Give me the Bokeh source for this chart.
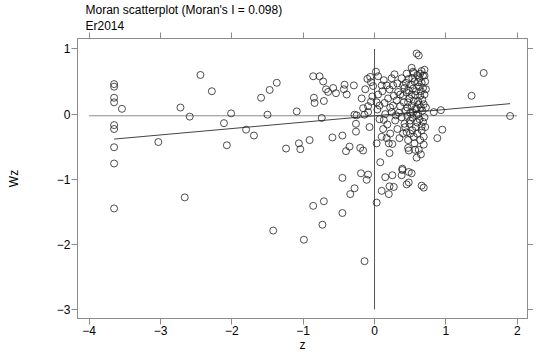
from bokeh.plotting import figure
from bokeh.models import Range1d, LinearAxis, FixedTicker, Title
from bokeh.embed import file_html
from bokeh.resources import INLINE

# ---- data ----
z = [
    -3.65, -3.65, -3.65, -3.65, -3.65, -3.65, -3.65, -3.65, -3.65,
    -3.54, -3.03, -2.72, -2.59, -2.44, -2.28, -2.66, -2.11, -2.07, -2.01,
    -1.80, -1.69, -1.59, -1.50, -1.47, -1.37, -1.24, -1.09, -1.06, -1.04,
    -0.91, -0.86, -0.85, -0.84, -0.77, -0.74, -0.72, -0.71, -0.68, -0.65,
    -0.59, -0.58, -0.54, -0.45, -0.43, -0.42, -0.39, -0.40, -0.35, -0.29,
    -0.26, -0.26, -0.25, -0.20, -0.18, -0.16, -0.16, -0.14, -0.13, -0.10,
    -0.09, -0.09, -0.07, -0.06, -0.05, -0.05, -0.03, -0.02, 0.02, 0.03,
    0.03, 0.04, 0.05, 0.07, 0.08, 0.10, 0.11, 0.12, 0.13, 0.14,
    0.15, 0.17, 0.17, 0.18, 0.19, 0.21, 0.22, 0.24, 0.25, 0.26,
    0.26, 0.28, 0.29, 0.31, 0.32, 0.33, 0.34, 0.35, 0.38, 0.39,
    0.40, 0.41, 0.42, 0.44, 0.45, 0.45, 0.46, 0.47, 0.47, 0.48,
    0.48, 0.49, 0.50, 0.52, 0.52, 0.53, 0.54, 0.54, 0.55, 0.56,
    0.57, 0.59, 0.59, 0.59, 0.60, 0.61, 0.61, 0.62, 1.53, 1.36,
    0.83, 0.93, 1.90, 0.95, 0.88, 0.65, 0.66, 0.69, 0.69, 0.66,
    0.70, 0.70, 0.21, 0.48, -0.19, -0.09, -0.11, -0.45, -0.28, -0.34,
    -0.71, -0.86, -0.45, -0.73, -1.42, -0.99, -0.14, 0.03, 0.15, 0.25,
    0.21, 0.27, 0.10, 0.20, 0.39, 0.38, 0.52, 0.48, 0.45, -0.28,
    0.54, 0.66, 0.68,
    0.36, 0.38, 0.40, 0.43, 0.44, 0.46, 0.48, 0.50, 0.50, 0.51,
    0.53, 0.55, 0.55, 0.56, 0.57, 0.58, 0.58, 0.60, 0.60, 0.61,
    0.62, 0.62, 0.63, 0.63, 0.64, 0.64, 0.65, 0.65, 0.66, 0.66,
    0.67, 0.67, 0.68, 0.68, 0.69, 0.69, 0.70, 0.70, 0.71, 0.71,
    0.72, 0.72, 0.45, 0.42, 0.47, 0.52, 0.57, 0.62, 0.59, 0.64,
    0.53, 0.49, 0.40, 0.36, 0.32, 0.30, 0.27, 0.22, 0.20, 0.13,
    0.07, 0.05, 0.10, 0.24,
]
wz = [
    0.46, 0.42, 0.25, 0.18, -0.17, -0.23, -0.51, -0.76, -1.45,
    0.08, -0.43, 0.10, -0.04, 0.60, 0.35, -1.28, -0.14, -0.48, 0.01,
    -0.24, -0.33, 0.25, -0.01, 0.37, 0.48, -0.53, 0.04, -0.45, -0.54,
    -0.40, 0.58, 0.25, 0.17, 0.58, -0.06, 0.50, 0.20, 0.38, 0.34,
    -0.36, 0.40, 0.32, -0.33, 0.38, 0.45, 0.30, -0.57, -0.50, 0.44,
    -0.27, -0.15, -0.02, -0.52, 0.24, 0.09, -0.56, -0.01, 0.38, 0.54,
    0.12, 0.03, -0.20, 0.57, 0.49, 0.19, 0.27, 0.43, 0.65, -0.45,
    0.18, 0.07, 0.30, 0.13, -0.74, 0.44, 0.35, -0.23, -0.09, 0.17,
    0.00, -0.37, 0.44, -0.16, 0.24, 0.38, -0.30, 0.03, -0.46, 0.44,
    0.13, 0.61, -0.10, 0.21, -0.23, 0.34, 0.02, -0.37, 0.55, -0.84,
    0.44, 0.18, -0.15, 0.05, 0.33, -0.28, -0.03, -0.40, -0.52, 0.54,
    -0.89, 0.24, -0.10, 0.71, 0.13, -0.25, 0.39, 0.02, 0.63, -0.45,
    0.29, 0.93, -0.67, 0.08, -0.13, 0.49, 0.20, 0.90, 0.63, 0.28,
    0.03, 0.06, -0.03, -0.24, -0.37, -0.62, -1.10, -1.13, -0.47, -0.19,
    0.59, 0.68, -0.60, -0.56, -0.91, -0.93, -1.01, -0.98, -1.14, -1.23,
    -1.34, -1.41, -1.52, -1.70, -1.79, -1.93, -2.26, -1.36, -0.97, -0.94,
    -1.11, -1.12, -1.18, -1.23, -0.86, -0.94, -0.91, -1.05, -1.08, -0.01,
    0.65, 0.66, 0.59,
    0.12, -0.05, 0.28, -0.20, 0.48, 0.10, 0.36, -0.30, 0.02, 0.45,
    -0.05, 0.20, -0.35, 0.50, 0.08, -0.20, 0.35, 0.60, -0.30, 0.00,
    0.42, 0.15, -0.08, 0.55, 0.28, -0.40, 0.10, 0.35, -0.25, 0.48,
    0.05, 0.22, -0.12, 0.40, -0.35, 0.15, 0.30, -0.05, 0.50, -0.20,
    0.10, 0.38, 0.62, 0.40, 0.18, 0.30, -0.55, -0.55, -0.02, 0.62,
    0.55, -0.15, -0.30, 0.30, 0.47, -0.02, 0.28, 0.10, -0.45, 0.52,
    -0.08, 0.58, -0.35, 0.55,
]
moran_i = 0.098          # slope of the fitted line
wz_mean = -0.027         # intercept / mean of Wz
z_mean = 0.0
x_ticks = [-4, -3, -2, -1, 0, 1, 2]
y_ticks = [-3, -2, -1, 0, 1]
title_text = "Moran scatterplot (Moran's I = 0.098)"
subtitle_text = "Er2014"

FONT = "Liberation Sans"
GRAY = "#8c8c8c"
FW, FH = 450, 280

p = figure(frame_width=FW, frame_height=FH, output_backend="svg", toolbar_location=None,
           x_range=Range1d(-4.163, 2.144), y_range=Range1d(-3.14, 1.16),
           x_axis_location=None, y_axis_location=None,
           min_border_left=77, min_border_right=0, min_border_top=0,
           min_border_bottom=0)
p.grid.visible = False
p.outline_line_color = GRAY
p.outline_line_width = 1
p.background_fill_color = "white"
p.border_fill_color = "white"

def make_axis(ticks, labels=True, label=None, label_standoff=0):
    ax = LinearAxis(ticker=FixedTicker(ticks=ticks))
    ax.axis_line_color = GRAY
    ax.major_tick_line_color = GRAY
    ax.major_tick_out = 6
    ax.major_tick_in = 0
    ax.minor_tick_line_color = None
    ax.major_label_text_font = FONT
    ax.major_label_text_font_size = "12px"
    ax.major_label_text_color = "black"
    ax.major_label_standoff = 1
    if not labels:
        ax.major_label_overrides = {t: "" for t in ticks}
        ax.major_label_standoff = 0
    if label:
        ax.axis_label = label
        ax.axis_label_text_font = FONT
        ax.axis_label_text_font_size = "12px"
        ax.axis_label_text_font_style = "normal"
        ax.axis_label_text_color = "black"
        ax.axis_label_standoff = label_standoff
    return ax

p.add_layout(make_axis(x_ticks, True, "z"), "below")
p.add_layout(make_axis(y_ticks, True, "Wz", label_standoff=33), "left")
p.add_layout(make_axis(x_ticks, False), "above")
p.add_layout(make_axis(y_ticks, False), "right")

p.add_layout(Title(text=subtitle_text, text_font=FONT, text_font_size="12px",
                   text_font_style="normal", text_color="black",
                   offset=8, standoff=0, text_line_height=1.0), "above")
p.add_layout(Title(text=title_text, text_font=FONT, text_font_size="12px",
                   text_font_style="normal", text_color="black",
                   offset=8, standoff=0, text_line_height=1.0), "above")

# reference lines
p.line([x_ticks[0], x_ticks[-1]], [wz_mean, wz_mean], line_color=GRAY, line_width=1)
p.line([z_mean, z_mean], [y_ticks[0], y_ticks[-1]], line_color="#555555", line_width=1)
# fitted line
zmin, zmax = min(z), max(z)
p.line([zmin, zmax], [wz_mean + moran_i * zmin, wz_mean + moran_i * zmax],
       line_color="#444444", line_width=1)

p.scatter(z, wz, marker="circle", size=7, fill_color=None,
          line_color="#222222", line_width=0.8)

open("out.html", "w").write(file_html(p, INLINE))
